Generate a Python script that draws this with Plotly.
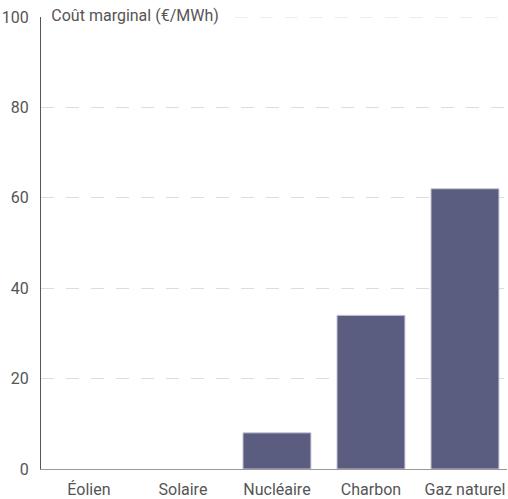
import plotly.graph_objects as go

# Marginal cost by generation source
sources = ["Éolien", "Solaire", "Nucléaire", "Charbon", "Gaz naturel"]
marginal_cost = [0, 0, 8, 34, 62]
y_ticks = [0, 20, 40, 60, 80, 100]
y_title = "Coût marginal (€/MWh)"

bar_color = "#5a5c80"
text_color = "#555555"
grid_color = "#dcdcdc"
grid_dash = "13px,12px"

fig = go.Figure()

fig.add_trace(
    go.Bar(
        x=list(range(len(sources))),
        y=marginal_cost,
        marker=dict(
            color=bar_color,
            line=dict(color="#c8c8d4", width=[1 if v > 0 else 0 for v in marginal_cost]),
        ),
        width=0.723,
        hoverinfo="skip",
    )
)

# axis caption written horizontally at the top of the value axis
fig.add_trace(
    go.Scatter(
        x=[-0.40],
        y=[99.9],
        mode="text",
        text=[y_title],
        textposition="middle right",
        textfont=dict(family="Roboto, sans-serif", size=16, color=text_color),
        cliponaxis=False,
        hoverinfo="skip",
    )
)

# dashed guide at the top of the scale, continuing after the caption
fig.add_shape(
    type="line", xref="paper", yref="y", x0=0.416, x1=1, y0=100, y1=100,
    line=dict(color=grid_color, width=1, dash=grid_dash), layer="below",
)

fig.update_layout(
    width=508,
    height=499,
    margin=dict(l=41, r=1, t=17, b=30),
    paper_bgcolor="white",
    plot_bgcolor="white",
    showlegend=False,
    font=dict(family="Roboto, sans-serif", size=16, color=text_color),
    xaxis=dict(
        range=[-0.51, 4.447],
        tickvals=list(range(len(sources))),
        ticktext=sources,
        showgrid=False,
        zeroline=False,
        showline=True,
        linecolor="#999999",
        linewidth=1,
        ticks="",
        ticklabelstandoff=6,
        automargin=False,
        tickfont=dict(size=16, color=text_color),
        fixedrange=True,
    ),
    yaxis=dict(
        range=[0, 100],
        tickvals=y_ticks,
        showgrid=True,
        gridcolor=grid_color,
        griddash=grid_dash,
        gridwidth=1,
        zeroline=False,
        showline=True,
        linecolor="#555555",
        linewidth=1,
        ticks="",
        ticklabelstandoff=8,
        automargin=False,
        tickfont=dict(size=16, color=text_color),
        fixedrange=True,
    ),
)

fig.write_html("out.html")
